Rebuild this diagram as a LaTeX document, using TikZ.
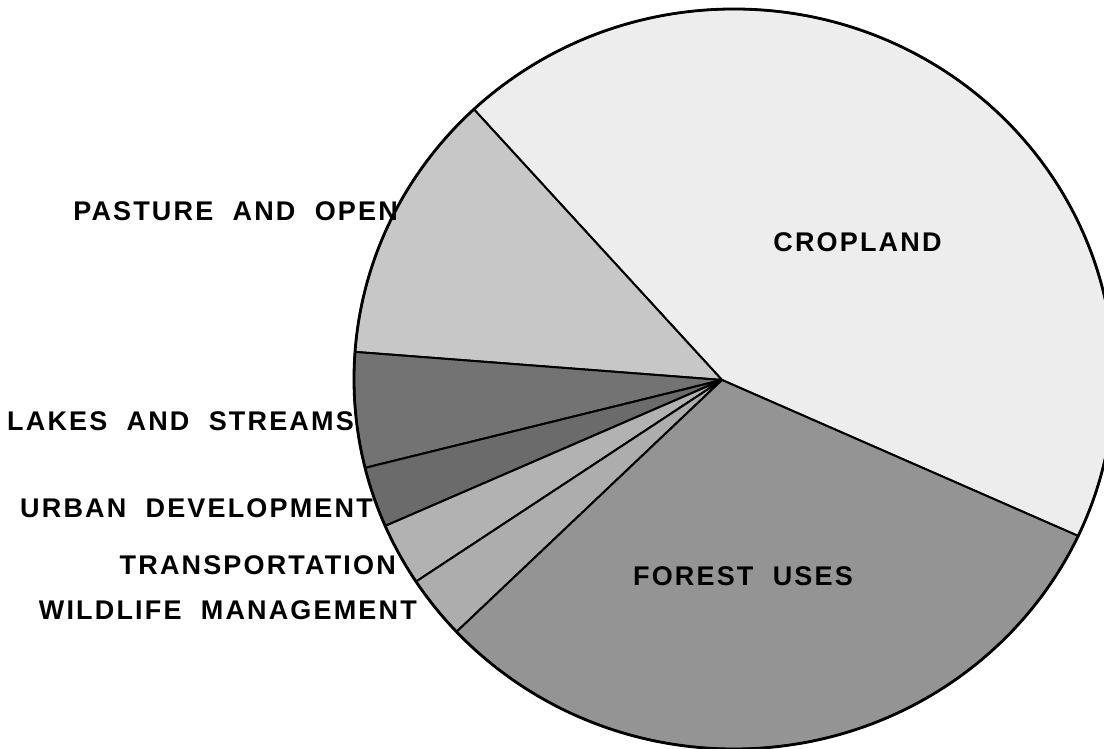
\documentclass[tikz,border=0pt]{standalone}
\usepackage{fontspec}
\setmainfont{Liberation Sans}[LetterSpace=8,WordSpace={2.0}]

\begin{document}
\begin{tikzpicture}[x=1pt, y=1pt,
    slice/.style={draw=black, line width=2pt, line join=round},
    rim/.style={draw=black, line width=2.8pt},
    label/.style={font=\fontsize{27}{30}\selectfont\bfseries, inner sep=0pt}
]
    \useasboundingbox (0,0) rectangle (1104,749);
    \clip (0,0) rectangle (1104,749);

    \coordinate (apex) at (722,369);
    \coordinate (ctr) at (734,370);

    % slices: start angle / end angle / grey
    \foreach \a/\b/\g in {-25.1/133.2/7, 133.2/175.8/22, 175.8/193.9/55,
                          193.9/203.4/58, 203.4/213.2/30, 213.2/223.1/32,
                          223.1/334.9/42}{
        \filldraw[slice, fill=black!\g] (apex)
            -- ([shift={(\a:380pt and 370pt)}]ctr)
            arc[start angle=\a, end angle=\b, x radius=380pt, y radius=370pt]
            -- cycle;
    }
    \draw[rim] (ctr) ellipse [x radius=380pt, y radius=370pt];

    \node[label] (cropland) at (857.5,506.5) {CROPLAND};
    \node[label] (forest) at (743,172.3) {FOREST USES};
    \node[label, anchor=east] (pasture) at (398,537.3) {PASTURE AND OPEN};
    \node[label, anchor=east] (lakes) at (354,327.3) {LAKES AND STREAMS};
    \node[label, anchor=east] (urban) at (373,240.7) {URBAN DEVELOPMENT};
    \node[label, anchor=east] (transport) at (396,184) {TRANSPORTATION};
    \node[label, anchor=east] (wildlife) at (417,139) {WILDLIFE MANAGEMENT};
\end{tikzpicture}
\end{document}
